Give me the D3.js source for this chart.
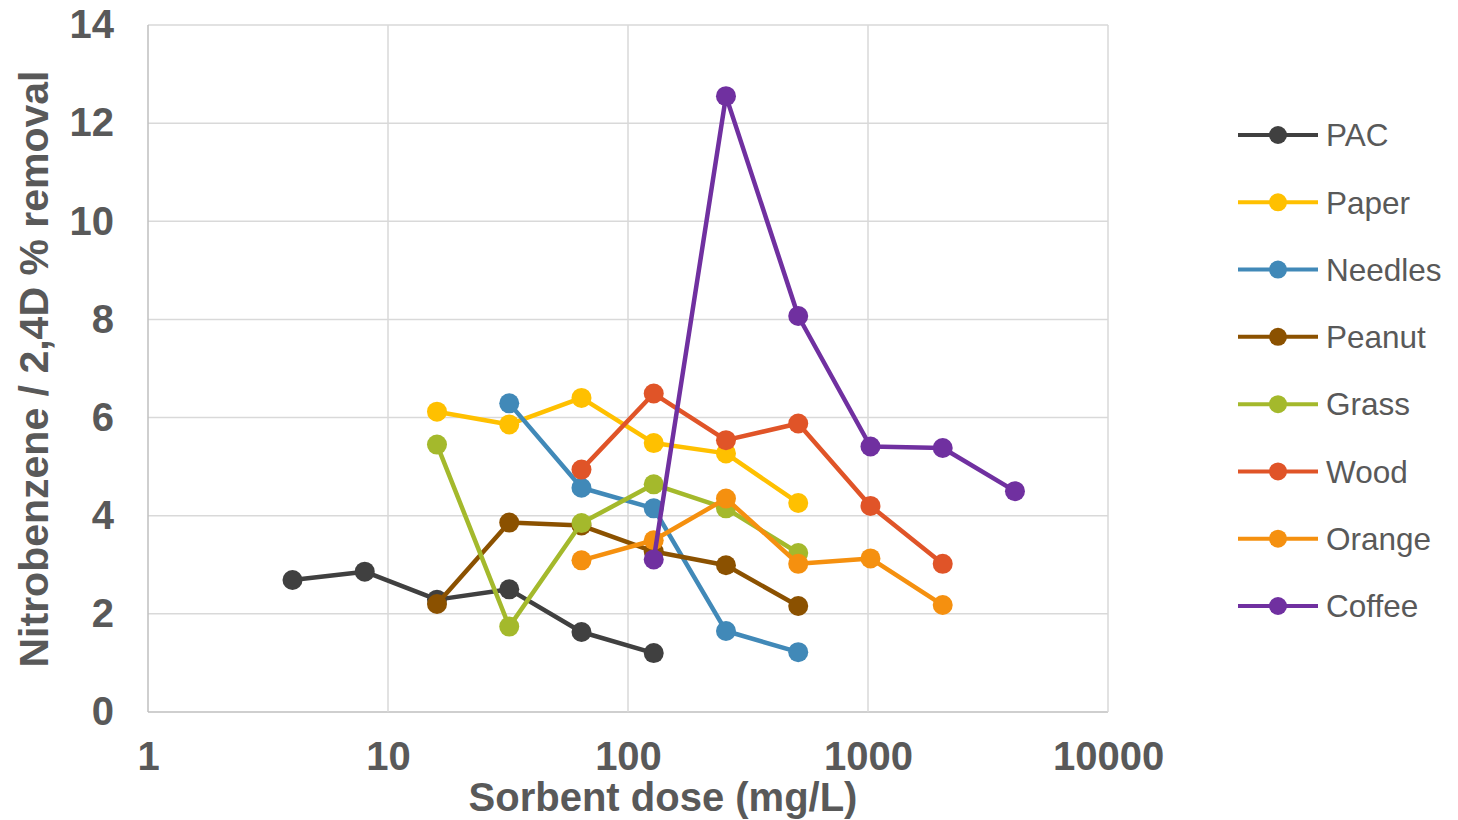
<!DOCTYPE html>
<html>
<head>
<meta charset="utf-8">
<style>
  body { margin: 0; background: #fff; }
  .tick text { font: bold 40px "Liberation Sans", Arial, sans-serif; fill: #595959; }
  .title { font: bold 40px "Liberation Sans", Arial, sans-serif; fill: #595959; text-anchor: middle; }
  .legend text { font: 31.5px "Liberation Sans", Arial, sans-serif; fill: #595959; }
</style>
</head>
<body>
<svg id="chart" width="1458" height="820"></svg>
<script src="https://cdn.jsdelivr.net/npm/d3@7"></script>
<script>
// sorbent doses (mg/L), doubling series
var doses = [4, 8, 16, 32, 64, 128, 256, 512, 1024, 2048, 4096];

// series: start index into doses, and % removal values
var seriesNames = ["PAC", "Paper", "Needles", "Peanut", "Grass", "Wood", "Orange", "Coffee"];
var seriesColors = ["#404040", "#FFC000", "#4189B8", "#8B5100", "#A4B92C", "#E05428", "#F5900F", "#7030A0"];
var seriesStart = [0, 2, 3, 2, 2, 4, 4, 5];
var pac = [2.69, 2.86, 2.29, 2.50, 1.63, 1.20];
var paper = [6.12, 5.86, 6.40, 5.48, 5.27, 4.26];
var needles = [6.29, 4.57, 4.15, 1.65, 1.22];
var peanut = [2.20, 3.86, 3.80, 3.27, 2.99, 2.16];
var grass = [5.45, 1.74, 3.85, 4.64, 4.15, 3.24];
var wood = [4.94, 6.49, 5.54, 5.88, 4.20, 3.02];
var orange = [3.09, 3.50, 4.35, 3.02, 3.13, 2.18];
var coffee = [3.11, 12.55, 8.07, 5.41, 5.38, 4.50];
var seriesValues = [pac, paper, needles, peanut, grass, wood, orange, coffee];

var xTicks = [1, 10, 100, 1000, 10000];
var yTicks = [0, 2, 4, 6, 8, 10, 12, 14];

var svg = d3.select("#chart");
var pLeft = 148, pRight = 1108, pTop = 25, pBottom = 712;

var x = d3.scaleLog().domain([1, 10000]).range([pLeft, pRight]);
var y = d3.scaleLinear().domain([0, 14]).range([pBottom, pTop]);

// gridlines
svg.append("g").selectAll("line").data(yTicks).enter().append("line")
  .attr("x1", pLeft).attr("x2", pRight)
  .attr("y1", function(d) { return y(d); }).attr("y2", function(d) { return y(d); })
  .attr("stroke", function(d) { return d === 0 ? "#bfbfbf" : "#d9d9d9"; })
  .attr("stroke-width", 1.5);
svg.append("g").selectAll("line").data(xTicks).enter().append("line")
  .attr("y1", pTop).attr("y2", pBottom)
  .attr("x1", function(d) { return x(d); }).attr("x2", function(d) { return x(d); })
  .attr("stroke", function(d) { return d === 1 ? "#bfbfbf" : "#d9d9d9"; })
  .attr("stroke-width", 1.5);

// axes (labels only)
var xAxis = svg.append("g").attr("transform", "translate(0," + pBottom + ")")
  .call(d3.axisBottom(x).tickValues(xTicks).tickFormat(d3.format("d")).tickSize(0).tickPadding(30));
xAxis.select(".domain").remove();
var yAxis = svg.append("g").attr("transform", "translate(" + pLeft + ",0)")
  .call(d3.axisLeft(y).tickValues(yTicks).tickSize(0).tickPadding(34));
yAxis.select(".domain").remove();

svg.append("text").attr("class", "title")
  .attr("x", 663).attr("y", 811).text("Sorbent dose (mg/L)");
svg.append("text").attr("class", "title")
  .attr("transform", "translate(48,369) rotate(-90)")
  .style("font-size", "41px").text("Nitrobenzene / 2,4D % removal");

// series
var line = d3.line().x(function(d) { return x(d[0]); }).y(function(d) { return y(d[1]); });
seriesNames.forEach(function(name, i) {
  var pts = seriesValues[i].map(function(v, j) { return [doses[seriesStart[i] + j], v]; });
  var g = svg.append("g");
  g.append("path").datum(pts).attr("d", line)
    .attr("fill", "none").attr("stroke", seriesColors[i]).attr("stroke-width", 4.5)
    .attr("stroke-linejoin", "round");
  g.selectAll("circle").data(pts).enter().append("circle")
    .attr("cx", function(d) { return x(d[0]); }).attr("cy", function(d) { return y(d[1]); })
    .attr("r", 10).attr("fill", seriesColors[i]);
});

// legend
var legend = svg.append("g").attr("class", "legend");
var rowY = d3.scalePoint().domain(seriesNames).range([135, 606]);
seriesNames.forEach(function(name, i) {
  var ly = rowY(name);
  legend.append("line").attr("x1", 1238).attr("x2", 1318).attr("y1", ly).attr("y2", ly)
    .attr("stroke", seriesColors[i]).attr("stroke-width", 4);
  legend.append("circle").attr("cx", 1278).attr("cy", ly).attr("r", 9).attr("fill", seriesColors[i]);
  legend.append("text").attr("x", 1326).attr("y", ly).attr("dy", "0.36em").text(name);
});
</script>
</body>
</html>
